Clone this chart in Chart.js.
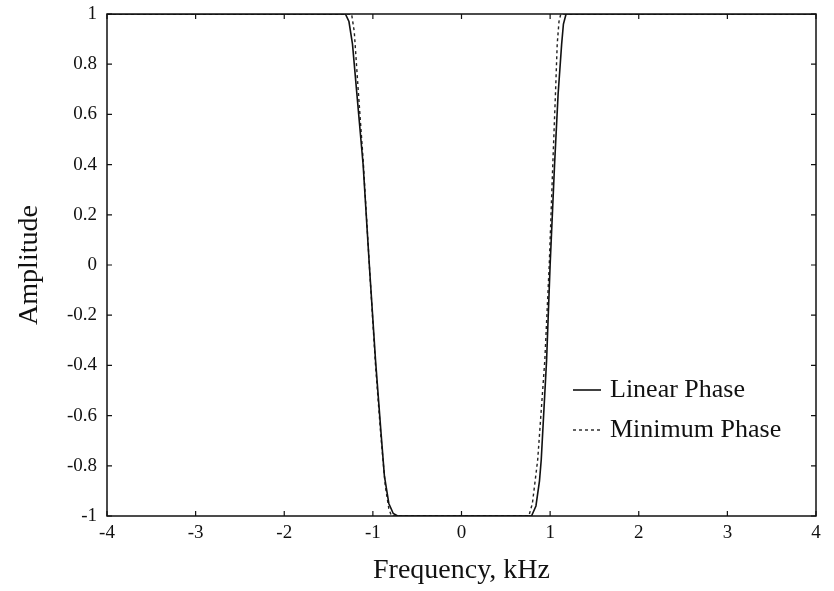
<!DOCTYPE html>
<html>
<head>
<meta charset="utf-8">
<script src="https://cdn.jsdelivr.net/npm/chart.js@4.4.0/dist/chart.umd.min.js"></script>
<style>
  html, body { margin: 0; padding: 0; background: #fff; }
  #wrap { width: 834px; height: 591px; }
</style>
</head>
<body>
<div id="wrap"><canvas id="chart" width="834" height="591"></canvas></div>
<script>
// values
const linearFreq = [-4, -1.31, -1.27, -1.23, -1.18, -1.11, -1.04, -0.97, -0.91, -0.87, -0.82, -0.77, -0.72,
                    0.79, 0.84, 0.88, 0.90, 0.96, 1.00, 1.05, 1.09, 1.13, 1.15, 1.18, 4];
const linearAmp = [1, 1, 0.97, 0.88, 0.68, 0.40, 0.00, -0.38, -0.66, -0.84, -0.95, -0.99, -1,
                   -1, -0.96, -0.86, -0.775, -0.38, 0.00, 0.40, 0.68, 0.88, 0.96, 1, 1];
const minFreq = [-4, -1.24, -1.21, -1.17, -1.11, -1.04, -0.97, -0.91, -0.86, -0.82, -0.79,
                 0.76, 0.80, 0.86, 0.94, 0.99, 1.03, 1.06, 1.08, 1.10, 1.12, 4];
const minAmp = [1, 1, 0.93, 0.72, 0.42, 0.00, -0.40, -0.68, -0.88, -0.97, -1,
                -1, -0.95, -0.775, -0.38, 0.00, 0.40, 0.68, 0.88, 0.97, 1, 1];
const xTicks = [-4, -3, -2, -1, 0, 1, 2, 3, 4];
const yTicks = [-1, -0.8, -0.6, -0.4, -0.2, 0, 0.2, 0.4, 0.6, 0.8, 1];
const seriesNames = ['Linear Phase', 'Minimum Phase'];

function toPoints(xs, ys) {
    return xs.map((x, i) => ({ x: x, y: ys[i] }));
}

const serif = 'Liberation Serif';

// box round the plot and MATLAB style ticks pointing inwards
const framePlugin = {
    id: 'frame',
    afterDraw(chart) {
        const ctx = chart.ctx;
        const a = chart.chartArea;
        const xs = chart.scales.x, ys = chart.scales.y;
        const t = 5;
        ctx.save();
        ctx.strokeStyle = '#111';
        ctx.lineWidth = 1.5;
        ctx.strokeRect(a.left, a.top, a.right - a.left, a.bottom - a.top);
        ctx.lineWidth = 1.2;
        ctx.beginPath();
        xs.ticks.forEach(tk => {
            const px = xs.getPixelForValue(tk.value);
            ctx.moveTo(px, a.bottom); ctx.lineTo(px, a.bottom - t);
            ctx.moveTo(px, a.top); ctx.lineTo(px, a.top + t);
        });
        ys.ticks.forEach(tk => {
            const py = ys.getPixelForValue(tk.value);
            ctx.moveTo(a.left, py); ctx.lineTo(a.left + t, py);
            ctx.moveTo(a.right, py); ctx.lineTo(a.right - t, py);
        });
        ctx.stroke();

        // legend in the lower right corner
        const lx = a.left + 466, ly = a.top + 376, gap = 40;
        chart.data.datasets.forEach((ds, i) => {
            const y = ly + i * gap;
            ctx.strokeStyle = ds.borderColor;
            ctx.lineWidth = ds.borderWidth;
            ctx.setLineDash(ds.borderDash || []);
            ctx.beginPath();
            ctx.moveTo(lx, y); ctx.lineTo(lx + 28, y);
            ctx.stroke();
            ctx.setLineDash([]);
            ctx.fillStyle = '#111';
            ctx.font = '26px "' + serif + '"';
            ctx.textBaseline = 'middle';
            ctx.fillText(ds.label, lx + 37, y);
        });
        ctx.restore();
    }
};

let ctx = document.getElementById('chart').getContext('2d');
let chart = new Chart(ctx, {
    type: 'line',
    data: {
        datasets: [{
            label: seriesNames[0],
            data: toPoints(linearFreq, linearAmp),
            borderColor: '#111111',
            borderWidth: 1.6,
            pointRadius: 0,
            tension: 0
        }, {
            label: seriesNames[1],
            data: toPoints(minFreq, minAmp),
            borderColor: '#222222',
            borderWidth: 1.4,
            borderDash: [3, 3],
            pointRadius: 0,
            tension: 0
        }]
    },
    options: {
        responsive: false,
        animation: false,
        layout: { padding: { left: 0, top: 14, right: 18, bottom: 0 } },
        plugins: { legend: { display: false }, tooltip: { enabled: false } },
        scales: {
            x: {
                type: 'linear',
                min: -4, max: 4,
                afterBuildTicks: s => { s.ticks = xTicks.map(v => ({ value: v })); },
                afterFit: s => { s.height = 75; s.paddingLeft = 0; s.paddingRight = 0; },
                grid: { display: false, drawTicks: false },
                border: { display: false },
                ticks: { color: '#111', padding: 6, maxRotation: 0, font: { family: serif, size: 19 },
                         callback: v => String(v) },
                title: { display: true, text: 'Frequency, kHz', color: '#111',
                         font: { family: serif, size: 28 }, padding: { top: 0, bottom: 4 } }
            },
            y: {
                type: 'linear',
                min: -1, max: 1,
                afterBuildTicks: s => { s.ticks = yTicks.map(v => ({ value: v })); },
                afterFit: s => { s.width = 107; s.paddingTop = 0; s.paddingBottom = 0; },
                grid: { display: false, drawTicks: false },
                border: { display: false },
                ticks: { color: '#111', padding: 10, font: { family: serif, size: 19 },
                         callback: v => String(Math.round(v * 10) / 10) },
                title: { display: true, text: 'Amplitude', color: '#111',
                         font: { family: serif, size: 28 }, padding: { top: 13, bottom: 0 } }
            }
        }
    },
    plugins: [framePlugin]
});
</script>
</body>
</html>
